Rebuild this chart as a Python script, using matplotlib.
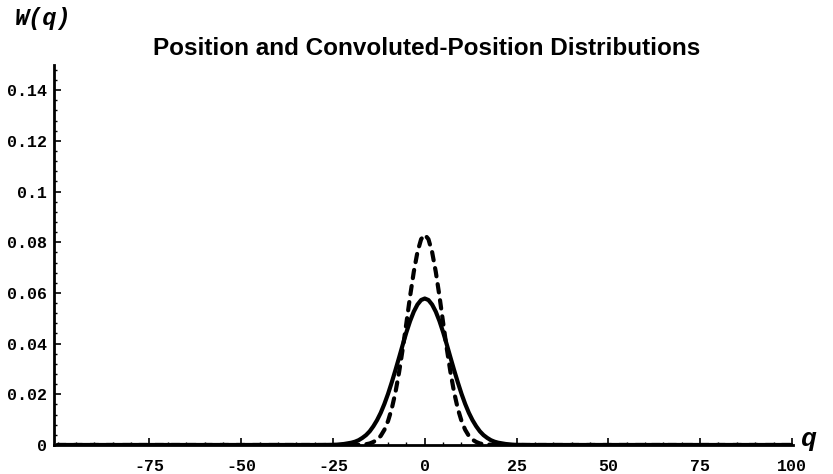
import numpy as np
import matplotlib
matplotlib.use("Agg")
import matplotlib.pyplot as plt
from matplotlib.ticker import MultipleLocator

# position distribution (dashed)
q_pos = [-100, -20, -18, -16, -15, -14, -13, -12, -11, -10, -9, -8, -7, -6, -5, -4, -3, -2, -1,
         0, 1, 2, 3, 4, 5, 6, 7, 8, 9, 10, 11, 12, 13, 14, 15, 16, 18, 20, 100]
w_pos = [0, 0, 0.0001, 0.0003, 0.0006, 0.0012, 0.0021, 0.0036, 0.0060, 0.0095, 0.0143, 0.0207,
         0.0287, 0.0380, 0.0482, 0.0587, 0.0683, 0.0761, 0.0812,
         0.0830, 0.0812, 0.0761, 0.0683, 0.0587, 0.0482, 0.0380, 0.0287, 0.0207, 0.0143, 0.0095,
         0.0060, 0.0036, 0.0021, 0.0012, 0.0006, 0.0003, 0.0001, 0, 0]

# convoluted position distribution (solid)
q_conv = [-100, -28, -26, -24, -22, -20, -19, -18, -17, -16, -15, -14, -13, -12, -11, -10, -9, -8,
          -7, -6, -5, -4, -3, -2, -1, 0, 1, 2, 3, 4, 5, 6, 7, 8, 9, 10, 11, 12, 13, 14, 15, 16,
          17, 18, 19, 20, 22, 24, 26, 28, 100]
w_conv = [0, 0, 0.00005, 0.0001, 0.0004, 0.0009, 0.0013, 0.0019, 0.0028, 0.0039, 0.0054, 0.0074,
          0.0098, 0.0127, 0.0162, 0.0202, 0.0247, 0.0295, 0.0345, 0.0396, 0.0445, 0.0489, 0.0526,
          0.0554, 0.0572, 0.0578, 0.0572, 0.0554, 0.0526, 0.0489, 0.0445, 0.0396, 0.0345, 0.0295,
          0.0247, 0.0202, 0.0162, 0.0127, 0.0098, 0.0074, 0.0054, 0.0039, 0.0028, 0.0019, 0.0013,
          0.0009, 0.0004, 0.0001, 0.00005, 0, 0]

x_ticks = [-75, -50, -25, 0, 25, 50, 75, 100]
x_labels = ["-75", "-50", "-25", "0", "25", "50", "75", "100"]
y_ticks = [0, 0.02, 0.04, 0.06, 0.08, 0.1, 0.12, 0.14]
y_labels = ["0", "0.02", "0.04", "0.06", "0.08", "0.1", "0.12", "0.14"]

fig = plt.figure(figsize=(8.33, 4.74), dpi=100)
ax = fig.add_axes([0.0648, 0.0612, 0.8872, 0.802])

ax.plot(q_conv, w_conv, color="black", lw=3, solid_capstyle="round", solid_joinstyle="round")
ax.plot(q_pos, w_pos, color="black", lw=3, dashes=(2.0, 1.9), dash_capstyle="round")

ax.set_xlim(-101, 100.3)
ax.set_ylim(0, 0.15)
ax.spines["top"].set_visible(False)
ax.spines["right"].set_visible(False)
ax.spines["left"].set_linewidth(2)
ax.spines["bottom"].set_linewidth(2)

mono = "Liberation Mono"
ax.set_xticks(x_ticks)
ax.set_xticklabels(x_labels, fontfamily=mono, fontweight="bold", fontsize=12)
ax.set_yticks(y_ticks)
ax.set_yticklabels(y_labels, fontfamily=mono, fontweight="bold", fontsize=12)
ax.xaxis.set_minor_locator(MultipleLocator(5))
ax.yaxis.set_minor_locator(MultipleLocator(0.004))
ax.tick_params(which="major", direction="in", length=5, width=1.2)
ax.tick_params(which="minor", direction="in", length=2.5, width=1)
ax.tick_params(axis="x", pad=10)
ax.tick_params(axis="y", pad=5)

fig.text(0.512, 0.897, "Position and Convoluted-Position Distributions", ha="center", va="center",
         fontfamily="Liberation Sans", fontweight="bold", fontsize=17.5)
fig.text(0.018, 0.962, "W(q)", ha="left", va="center", fontfamily=mono,
         fontweight="bold", fontstyle="italic", fontsize=17)
fig.text(0.961, 0.074, "q", ha="left", va="center", fontfamily=mono,
         fontweight="bold", fontstyle="italic", fontsize=19)

fig.savefig("out.png", dpi=100, facecolor="white")
